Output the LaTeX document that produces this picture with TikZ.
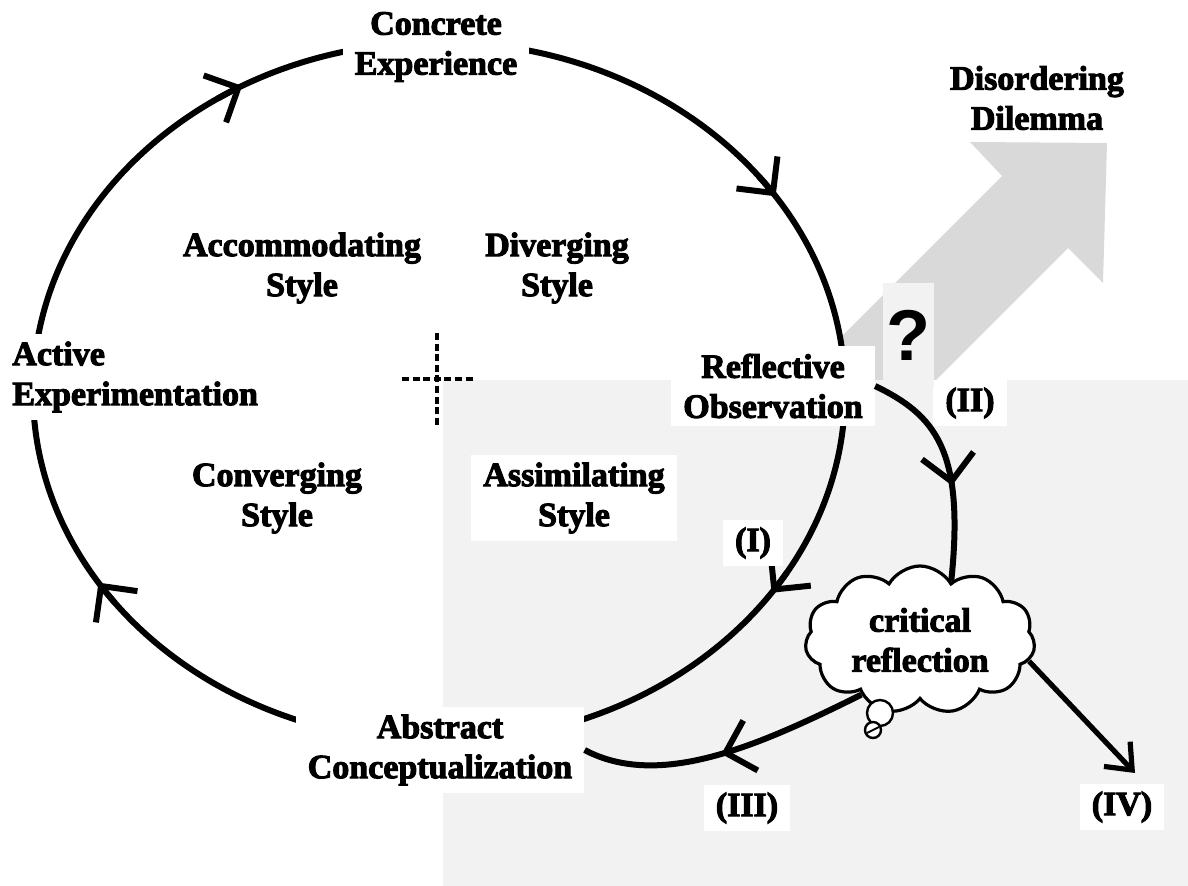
\documentclass[tikz,border=0pt]{standalone}
\usepackage{fontspec}
\setmainfont{Liberation Serif}
\newfontfamily\heavyfont{Liberation Serif}[UprightFont={* Bold}, FakeBold=3]
\setsansfont{Liberation Sans}
\usepackage{tikz}
\usetikzlibrary{
  arrows.meta,
  decorations.markings,
  shapes.symbols,
  calc
}
\definecolor{paleshade}{gray}{0.95}
\definecolor{arrowshade}{gray}{0.85}
\tikzset{
  chevron/.tip={Straight Barb[length=13pt,width=26pt]},
  cycle line/.style={
    line width=3pt
  },
  mid chevron/.style={
    postaction=decorate,
    decoration={markings,
      mark=at position #1 with {\arrow[line width=3pt]{chevron}}
    }
  },
  stage/.style={
    font=\heavyfont\fontsize{17}{20}\selectfont,
    align=center,
    fill=white,
    inner xsep=6pt,
    inner ysep=4pt
  },
  query/.style={
    font=\sffamily\bfseries\fontsize{36}{36}\selectfont,
    fill=paleshade,
    minimum width=25.5pt,
    minimum height=52pt,
    inner sep=0pt
  },
  thought/.style={
    cloud,
    cloud puffs=11,
    cloud puff arc=120,
    aspect=1.6,
    draw,
    fill=white,
    line width=1.6pt,
    font=\heavyfont\fontsize{17}{20}\selectfont,
    align=center,
    inner sep=0pt,
    minimum width=115pt,
    minimum height=74pt
  }
}

\begin{document}
\begin{tikzpicture}[x=0.5pt,y=-0.5pt]
  \useasboundingbox (0,0) rectangle (1188,886);
  \coordinate (ctr) at (439,392);
  % background shapes
  \fill[arrowshade] (758,420) -- (1002,176) -- (970,142) -- (1107,143)
    -- (1103,283) -- (1068,248) -- (896,420) -- cycle;
  \fill[white] (ctr) ellipse [x radius=203pt, y radius=175pt];
  \fill[paleshade] (443,380) rectangle (1188,886);
  \draw[line width=1.6pt, dash pattern=on 3.5pt off 1.8pt] (402,379) -- (473,379);
  \draw[line width=1.6pt, dash pattern=on 3.5pt off 1.8pt] (437,333) -- (437,425);
  % learning cycle
  \draw[cycle line] (ctr) ellipse [x radius=203pt, y radius=175pt];
  \foreach \ang [evaluate=\ang as \from using \ang+4] in {119,34,-35,-147}
    \draw[cycle line, -chevron] ($(ctr)+(\from:203pt and 175pt)$)
      arc [start angle=\from, end angle=\ang, x radius=203pt, y radius=175pt];

  \node[stage] (conc) at (436,47) {Concrete\\Experience};
  \node[stage] (disd) at (1037,98) {Disordering\\Dilemma};
  \node[stage] (accm) at (302,268) {Accommodating\\Style};
  \node[stage] (divg) at (557,268) {Diverging\\Style};
  \node[stage, align=left, anchor=west] (actv) at (0,377) {Active\\Experimentation};
  \node[stage] (refl) at (773,386) {Reflective\\Observation};
  \node[stage] (conv) at (277,498) {Converging\\Style};
  \node[stage] (assm) at (574,498) {Assimilating\\Style};
  \node[stage] (abst) at (440,750) {Abstract\\Conceptualization};
  \node[stage] (one) at (753,543) {(I)};
  \node[stage] (two) at (970,403) {(II)};
  \node[stage] (three) at (747,808) {(III)};
  \node[stage] (four) at (1122,807) {(IV)};
  \node[query] (qm) at (908,335) {?};
  \node[thought] (crit) at (920,640) {critical\\reflection};
  \coordinate (ivtip) at (1135,773);

  \draw[cycle line, mid chevron=0.58] (refl.east)
    .. controls (935,415) and (965,450) .. (crit.62);
  \draw[cycle line, mid chevron=0.52] (crit.223)
    .. controls (760,745) and (660,790) .. (abst.east);
  \draw[line width=2.6pt, -{Straight Barb[length=11pt,width=18pt]}] (crit.-11) -- (ivtip);
  \draw[line width=1.2pt, fill=white] (880,713) circle [radius=6.5pt];
  \draw[line width=1.2pt, fill=white] (873,730) circle [radius=4pt];
  \draw[line width=1pt] (867,733) -- (879,727);
\end{tikzpicture}
\end{document}
